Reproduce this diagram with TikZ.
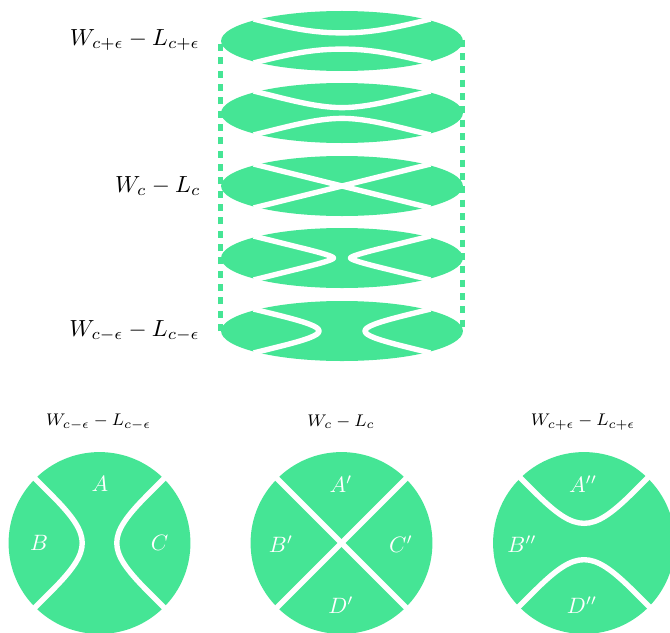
\documentclass[tikz,border=0pt]{standalone}
\definecolor{gr}{HTML}{45E595}
\newcommand{\sidetext}[1]{\scalebox{1.26}{$#1$}}
\newcommand{\tittext}[1]{\scalebox{1.14}{\footnotesize$#1$}}
\newcommand{\regtext}[1]{\scalebox{1.2}{$#1$}}
\tikzset{
  x=0.54pt,y=-0.54pt,
  cut/.style={draw=white,line width=2.9pt,line join=round},
  rail/.style={draw=gr,line width=2.25pt,dash pattern=on 3.8pt off 3.4pt},
  lab/.style={text=white,inner sep=0pt},
  tit/.style={text=black,inner sep=0pt},
  side/.style={text=black,inner sep=0pt,anchor=east}
}
\newcommand{\saddlecut}[1]{%
  \pgfmathsetmacro{\da}{#1}%
  \pgfmathsetmacro{\aa}{2*\da+.15}%
  \pgfmathsetmacro{\cc}{\da+.1}%
  \pgfmathsetmacro{\ee}{.75*\da}%
  \foreach \sx in {-1,1}{%
    \draw[cut] (\sx*.73,.73*1) -- (\sx*\aa,\aa*1)
      .. controls (\sx*\cc,\cc*1) and (\sx*\da,\ee*1) .. (\sx*\da,0)
      .. controls (\sx*\da,-\ee*1) and (\sx*\cc,-\cc*1) .. (\sx*\aa,-\aa*1) -- (\sx*.73,-.73*1);
  }}
\newcommand{\crosscut}{%
  \draw[cut] (-.73,.73) -- (.73,-.73);
  \draw[cut] (-.73,-.73) -- (.73,.73);}
\begin{document}
\begin{tikzpicture}
\useasboundingbox (0,0) rectangle (670,632);
\coordinate (tl) at (220.5,41);
\coordinate (bl) at (220.5,331);
\coordinate (tr) at (462.5,39.7);
\coordinate (br) at (462.5,331);
\draw[rail] (bl) -- (tl);
\draw[rail] (tr) -- (br);
\foreach \yc in {41,113,186,258,331}{
  \fill[gr,shift={(342,\yc)}] (0,0) ellipse [x radius=65.3pt,y radius=16.2pt];
}
\foreach \yc/\dd in {41/.27,113/.18}{
  \begin{scope}[shift={(342,\yc)},x={(0,-16.2pt)},y={(65.3pt,0)}]\saddlecut{\dd}\end{scope}}
\begin{scope}[shift={(342,186)},x=65.3pt,y=-16.2pt]\crosscut\end{scope}
\foreach \yc/\dd in {258/.07,331/.19}{
  \begin{scope}[shift={(342,\yc)},x=65.3pt,y=-16.2pt]\saddlecut{\dd}\end{scope}}
\node[side] (s1) at (200,40) {\sidetext{W_{c+\epsilon}-L_{c+\epsilon}}};
\node[side] (s2) at (201,186) {\sidetext{W_{c}-L_{c}}};
\node[side] (s3) at (200,331) {\sidetext{W_{c-\epsilon}-L_{c-\epsilon}}};
\begin{scope}[shift={(99.5,543)},x=49.1pt,y=-49.1pt]
  \fill[gr] (0,0) circle [radius=1];
  \saddlecut{.19}
\end{scope}
\begin{scope}[shift={(341.5,543)},x=49.1pt,y=-49.1pt]
  \fill[gr] (0,0) circle [radius=1];
  \crosscut
\end{scope}
\begin{scope}[shift={(584,543)},x=49.1pt,y=-49.1pt]
  \fill[gr] (0,0) circle [radius=1];
\end{scope}
\begin{scope}[shift={(584,541.5)},x={(0,-49.1pt)},y={(49.1pt,0)}]
  \saddlecut{.2}
\end{scope}
\node[tit] (t1) at (98.5,422) {\tittext{W_{c-\epsilon}-L_{c-\epsilon}}};
\node[tit] (t2) at (341,422) {\tittext{W_{c}-L_{c}}};
\node[tit] (t3) at (583,422) {\tittext{W_{c+\epsilon}-L_{c+\epsilon}}};
\node[lab] (a) at (100,484) {\regtext{A}};
\node[lab] (b) at (39,543) {\regtext{B}};
\node[lab] (c) at (159.5,543) {\regtext{C}};
\node[lab] (a1) at (341,484) {\regtext{A'}};
\node[lab] (b1) at (281,544) {\regtext{B'}};
\node[lab] (c1) at (401,544) {\regtext{C'}};
\node[lab] (d1) at (341,605) {\regtext{D'}};
\node[lab] (a2) at (583,484) {\regtext{A''}};
\node[lab] (b2) at (522,544) {\regtext{B''}};
\node[lab] (d2) at (582,605) {\regtext{D''}};
\end{tikzpicture}
\end{document}
